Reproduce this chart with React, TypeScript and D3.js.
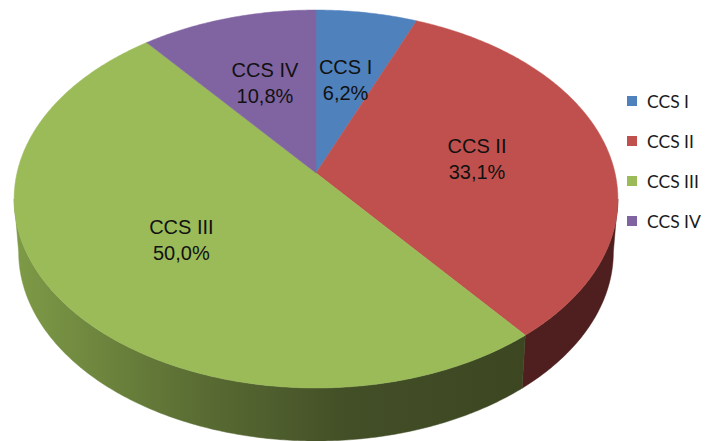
import React from "react";
import * as d3 from "d3";

const categories = ["CCS I", "CCS II", "CCS III", "CCS IV"];
const values = [6.2, 33.1, 50.0, 10.8];
const labels = ["6,2%", "33,1%", "50,0%", "10,8%"];
const colors = ["#4F81BD", "#C0504D", "#9BBB59", "#8064A2"];
const sideColors = ["#2a4466", "#4e1f1e", "url(#greenSide)", "#44355a"];

const width = 706;
const height = 441;

// perspective projection of the pie disc
const cx = 316;
const cy = 173;
const A = 299;
const B = 185.4;
const k = 0.1376;
const depth = 53;
const bottomScale = 0.985;

const proj = (theta: number, r: number, dy = 0, sx = 1): [number, number] => {
  const u = r * Math.sin(theta);
  const v = r * Math.cos(theta);
  const w = 1 + k * v;
  return [cx + (A * sx * u) / w, cy - (B * v) / w + dy];
};

const arcPts = (a0: number, a1: number, dy = 0, sx = 1) => {
  const n = Math.max(2, Math.ceil((a1 - a0) / 0.01));
  return d3.range(n + 1).map((i) => proj(a0 + ((a1 - a0) * i) / n, 1, dy, sx));
};

const line = d3.line().curve(d3.curveLinear);

export default function App() {
  const arcs = d3
    .pie<number>()
    .sort(null)
    .startAngle(0)
    .endAngle(2 * Math.PI)(values);

  const thR = Math.acos(-k);
  const thL = 2 * Math.PI - thR;

  return (
    <svg width={width} height={height} style={{ position: "absolute", left: 0, top: 0 }}>
      <defs>
        <linearGradient id="greenSide" gradientUnits="userSpaceOnUse" x1={14} y1={0} x2={525} y2={0}>
          <stop offset="0" stopColor="#7e9b47" />
          <stop offset="0.35" stopColor="#5b6e34" />
          <stop offset="0.65" stopColor="#434f27" />
          <stop offset="1" stopColor="#3c4722" />
        </linearGradient>
      </defs>
      <rect width={width} height={height} fill="#fff" />
      {arcs.map((a, i) => {
        const s0 = Math.max(a.startAngle, thR);
        const s1 = Math.min(a.endAngle, thL);
        if (s1 <= s0) return null;
        const top = arcPts(s0, s1);
        const bot = arcPts(s0, s1, depth, bottomScale).reverse();
        return (
          <path
            key={"side" + i}
            d={line([...top, ...bot] as [number, number][]) + "Z"}
            fill={sideColors[i]}
            stroke={sideColors[i]}
            strokeWidth={0.5}
          />
        );
      })}
      {arcs.map((a, i) => (
        <path
          key={"top" + i}
          d={line([[cx, cy], ...arcPts(a.startAngle, a.endAngle)] as [number, number][]) + "Z"}
          fill={colors[i]}
          stroke={colors[i]}
          strokeWidth={0.5}
        />
      ))}
      {arcs.map((a, i) => {
        const mid = (a.startAngle + a.endAngle) / 2;
        const [x, y] = proj(mid, 0.55);
        return (
          <text
            key={"lab" + i}
            x={x}
            y={y}
            textAnchor="middle"
            fontFamily="Liberation Sans, Arial, sans-serif"
            fontSize={20}
            fill="#111"
          >
            <tspan x={x} dy={-6}>{categories[i]}</tspan>
            <tspan x={x} dy={26}>{labels[i]}</tspan>
          </text>
        );
      })}
      <g transform="translate(627,96)">
        {categories.map((c, i) => (
          <g key={c} transform={`translate(0,${i * 40})`}>
            <rect width={10} height={10} fill={colors[i]} />
            <text x={20} y={5} dominantBaseline="central" fontFamily="Lato, sans-serif" fontSize={17.5} fill="#1a1a1a">
              {c}
            </text>
          </g>
        ))}
      </g>
    </svg>
  );
}
